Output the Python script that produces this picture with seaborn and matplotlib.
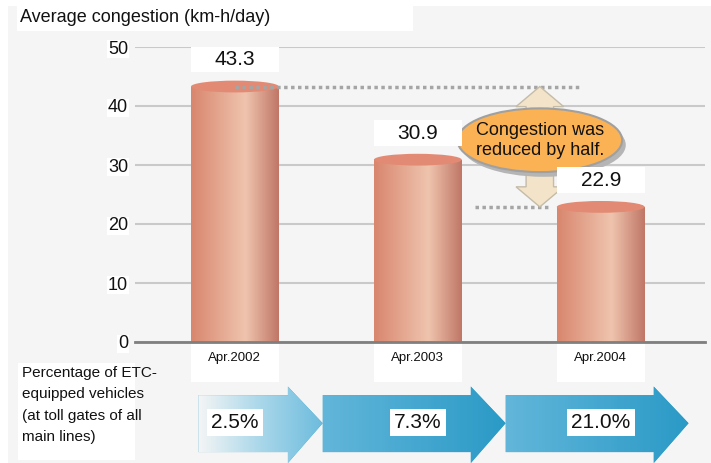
import numpy as np
import pandas as pd
import seaborn as sns
import matplotlib.pyplot as plt
from matplotlib.patches import Ellipse, Polygon, Rectangle
from matplotlib.colors import LinearSegmentedColormap
from matplotlib.transforms import blended_transform_factory

# data
periods = ["Apr.2002", "Apr.2003", "Apr.2004"]
congestion = [43.3, 30.9, 22.9]
etc_share = ["2.5%", "7.3%", "21.0%"]
yticks = [0, 10, 20, 30, 40, 50]

sns.set_theme(style="white")
plt.rcParams['font.family'] = ['Liberation Sans', 'DejaVu Sans']

bg = '#f5f5f5'
fig = plt.figure(figsize=(7.11, 4.63), dpi=100, facecolor='white')
fig.patches.append(Rectangle((8 / 711, 0), 1, 1 - 6 / 463, transform=fig.transFigure,
                             facecolor=bg, edgecolor='none', zorder=-10))

ax = fig.add_axes([135 / 711, 1 - 342 / 463, 570 / 711, 295 / 463])
ax.set_facecolor('none')
df = pd.DataFrame({"period": periods, "congestion": congestion})
sns.barplot(data=df, x="period", y="congestion", ax=ax, width=0.48,
            color='#e39c84', saturation=1, linewidth=0, zorder=2)

# cylinder look: horizontal gradient + top ellipse
bar_cmap = LinearSegmentedColormap.from_list('bar', [(0, '#d9866e'), (0.62, '#efc4ae'), (1, '#c07766')])
grad = np.linspace(0, 1, 256).reshape(1, -1)
bars = list(ax.patches)
for p in bars:
    x0, w, h = p.get_x(), p.get_width(), p.get_height()
    im = ax.imshow(grad, extent=[x0, x0 + w, 0, h], aspect='auto', cmap=bar_cmap, zorder=2.1)
    im.set_clip_path(p)
    ax.add_patch(Ellipse((x0 + w / 2, h), w, 2.0, facecolor='#e28a73', edgecolor='none', zorder=2.2))
    # value label in white box, as wide as the bar
    ax.add_patch(Rectangle((x0, h + 2.4), w, 4.3, facecolor='white', edgecolor='none', zorder=4))
    ax.text(x0 + w / 2, h + 4.5, f"{h:.1f}", ha='center', va='center', fontsize=15, color='#111111', zorder=5)

ax.set_xlim(-0.546, 2.57)
ax.set_ylim(0, 50)
ax.set_yticks(yticks)
ax.set_yticklabels([str(t) for t in yticks], fontsize=13, color='#111111')
for t in ax.get_yticklabels():
    t.set_bbox(dict(facecolor='white', edgecolor='none', pad=0.5))
ax.yaxis.grid(True, color='#c9c9c9', lw=1.5)
ax.set_axisbelow(True)
ax.tick_params(axis='y', length=0, pad=5)
ax.tick_params(axis='x', which='major', length=0, pad=7, labelsize=9.5, labelcolor='#111111')
ax.set_xticks([0.5, 1.5], minor=True)
ax.tick_params(axis='x', which='minor', direction='in', length=5, width=1.5, color='#7f7f7f')
ax.set_xlabel("")
ax.set_ylabel("")
for s in ['left', 'right', 'top']:
    ax.spines[s].set_visible(False)
ax.spines['bottom'].set_color('#7f7f7f')
ax.spines['bottom'].set_linewidth(2)

# white boxes behind the period labels (below the axis artists, which sit at zorder 0.5)
blend = blended_transform_factory(ax.transData, ax.transAxes)
for p in bars:
    ax.add_patch(Rectangle((p.get_x(), -0.136), p.get_width(), 0.132, transform=blend,
                           facecolor='white', edgecolor='none', clip_on=False, zorder=0.1))

# reduction annotation
xa = 1.667
top, bottom = congestion[0], congestion[2]
ax.hlines(top, 0, 1.9, colors='#a5a5a5', linestyles=(0, (1, 1)), lw=2.5, zorder=3)
ax.hlines(bottom, 1.31, xa + 0.06, colors='#a5a5a5', linestyles=(0, (1, 1)), lw=2.5, zorder=3)
hw, sw, hl = 0.13, 0.075, 3.4
arrow_pts = [(xa, top), (xa + hw, top - hl), (xa + sw, top - hl), (xa + sw, bottom + hl),
             (xa + hw, bottom + hl), (xa, bottom), (xa - hw, bottom + hl), (xa - sw, bottom + hl),
             (xa - sw, top - hl), (xa - hw, top - hl)]
ax.add_patch(Polygon(arrow_pts, closed=True, facecolor='#f3e4c9', edgecolor='#c4bba9', lw=1, zorder=3.5))
yc = (top + bottom) / 2 + 1.1
ax.add_patch(Ellipse((xa + 0.02, yc - 0.8), 0.9, 10.8, facecolor='#b5b5b5', edgecolor='none', zorder=3.6))
ax.add_patch(Ellipse((xa, yc), 0.9, 10.8, facecolor='#fbb254', edgecolor='#a0a0a0', lw=1.5, zorder=3.7))
ax.text(xa, yc, "Congestion was\nreduced by half.", ha='center', va='center', fontsize=13,
        color='#111111', linespacing=1.2, zorder=4)

# ETC share arrows
axb = fig.add_axes([135 / 711, 0, 570 / 711, 1 - 385 / 463])
axb.axis('off')
blue_cmap = LinearSegmentedColormap.from_list('blue', ['#62b6da', '#2a9ac6'])
fade_cmap = LinearSegmentedColormap.from_list('fade', [bg, '#a9d7ea', '#6dbcdd'])
for i, label in enumerate(etc_share):
    tip = i + 0.48
    start = -0.2 if i == 0 else i - 0.52
    neck = tip - 0.19
    pts = [(start, 0.14), (neck, 0.14), (neck, 0.0), (tip, 0.51), (neck, 0.98),
           (neck, 0.87), (start, 0.87)]
    poly = Polygon(pts, closed=True, facecolor='#3aa2cc', edgecolor='none', zorder=1)
    axb.add_patch(poly)
    im = axb.imshow(grad, extent=[start, tip, 0, 1], aspect='auto',
                    cmap=fade_cmap if i == 0 else blue_cmap, zorder=1.1)
    im.set_clip_path(poly)
    axb.text(i, 0.52, label, ha='center', va='center', fontsize=15, color='#111111', zorder=3,
             bbox=dict(boxstyle='square,pad=0.2', facecolor='white', edgecolor='none'))
axb.set_xlim(ax.get_xlim())
axb.set_ylim(0, 1)

# left caption and title
fig.patches.append(Rectangle((18 / 711, 3 / 463), 117 / 711, 97 / 463, transform=fig.transFigure,
                             facecolor='white', edgecolor='none', zorder=-5))
fig.text(22 / 711, 1 - 366 / 463, "Percentage of ETC-\nequipped vehicles\n(at toll gates of all\nmain lines)",
         ha='left', va='top', fontsize=11, color='#111111', linespacing=1.68)
fig.patches.append(Rectangle((17 / 711, 1 - 31 / 463), 396 / 711, 31 / 463, transform=fig.transFigure,
                             facecolor='white', edgecolor='none', zorder=-5))
fig.text(20 / 711, 1 - 18 / 463, "Average congestion (km-h/day)", ha='left', va='center',
         fontsize=13, color='#111111')

plt.savefig('out.png', dpi=100, facecolor=fig.get_facecolor())
